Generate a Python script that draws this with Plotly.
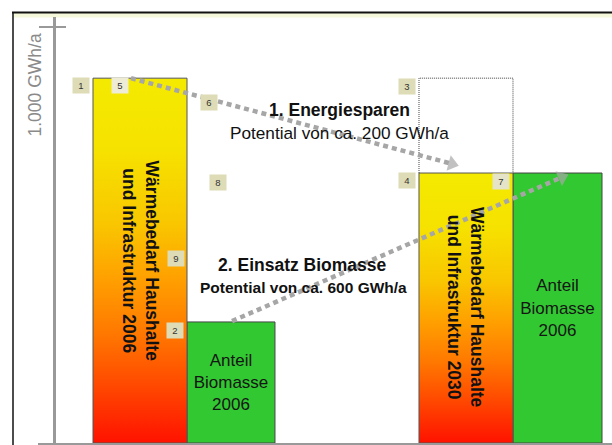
import plotly.graph_objects as go

# ---------------- data (GWh/a) ----------------
demand_labels = ["Wärmebedarf Haushalte<br>und Infrastruktur 2006",
                 "Wärmebedarf Haushalte<br>und Infrastruktur 2030"]
demand_values = [877, 649]
biomass_labels = ["Anteil<br>Biomasse<br>2006", "Anteil<br>Biomasse<br>2006"]
biomass_values = [291, 649]
y_tick_values = [1000]
y_label = "1.000 GWh/a"
step_titles = ["1. Energiesparen", "2. Einsatz Biomasse"]
step_texts = ["Potential von ca. 200 GWh/a", "Potential von ca. 600 GWh/a"]
marker_numbers = ["1", "2", "3", "4", "5", "6", "7", "8", "9"]

# ---------------- layout constants ----------------
W, H = 612, 445
ML, MR, MT, MB = 38, 0, 17, 2
X0_PX, UNIT_PX = 93, 94          # pixel of x=0, pixels per x unit
Y0_PX = H - MB                   # pixel of y=0
Y_PX_PER = 0.416                 # pixels per GWh/a
XR = [(ML - X0_PX) / UNIT_PX, (W - MR - X0_PX) / UNIT_PX]
YR = [0, (H - MB - MT) / Y_PX_PER]

demand_x = [0.0, 3.468]
demand_w = 1.0
biomass_x = [1.0, 4.468]
biomass_w = [0.936, 0.947]

FONT = "Arial, Liberation Sans, sans-serif"
GREEN = "#32c832"
GRAD = [[0, "#ff1200"], [0.15, "#ff4600"], [0.3, "#ff7800"], [0.45, "#ffa000"],
        [0.6, "#f9c600"], [0.8, "#f6e200"], [1, "#f4ea00"]]
ARROW = "#a6a6a6"


def dx(px):
    return (px - X0_PX) / UNIT_PX


def dy(py):
    return (Y0_PX - py) / Y_PX_PER


def paper_x(px):
    return (px - ML) / (W - ML - MR)


def paper_y(py):
    return (H - MB - py) / (H - MT - MB)


fig = go.Figure()

# green bars (Anteil Biomasse)
fig.add_trace(go.Bar(
    x=biomass_x, y=biomass_values, width=biomass_w, offset=0,
    marker=dict(color=GREEN, line=dict(color="#444", width=1)),
    text=biomass_labels, textposition="inside", insidetextanchor="middle",
    textangle=0, textfont=dict(family=FONT, size=17, color="#151515"),
    hoverinfo="skip", showlegend=False))

# gradient demand bars
for x0, v in zip(demand_x, demand_values):
    fig.add_trace(go.Scatter(
        x=[x0, x0, x0 + demand_w, x0 + demand_w, x0], y=[0, v, v, 0, 0],
        mode="lines", fill="toself",
        fillgradient=dict(type="vertical", colorscale=GRAD),
        line=dict(color="#555", width=1), hoverinfo="skip", showlegend=False))

# dotted outline of the 2006 demand above the 2030 bar
x3 = demand_x[1]
fig.add_trace(go.Scatter(
    x=[x3, x3, x3 + demand_w, x3 + demand_w],
    y=[demand_values[1], demand_values[0], demand_values[0], demand_values[1]],
    mode="lines", line=dict(color="#444", width=1, dash="1px,1px"),
    hoverinfo="skip", showlegend=False))

# arrows
arrows = [
    ((demand_x[0] + 0.404, demand_values[0]), (demand_x[1] + 0.351, demand_values[1] + 22)),
    ((biomass_x[0] + 0.479, biomass_values[0] + 2), (biomass_x[1] + 0.521, biomass_values[1] - 10)),
]
for (xs, ys), (xe, ye) in arrows:
    fig.add_trace(go.Scatter(
        x=[xs, xe], y=[ys, ye], mode="lines+markers",
        line=dict(color=ARROW, width=4.5, dash="5px,4px"),
        marker=dict(symbol="triangle-up", size=[0, 14], color=ARROW,
                    angleref="previous", line=dict(width=0)),
        hoverinfo="skip", showlegend=False))

annotations = []
# rotated text in demand bars
for x0, v, lab in zip(demand_x, demand_values, demand_labels):
    annotations.append(dict(
        x=x0 + demand_w / 2, y=v / 2, xref="x", yref="y", text=lab,
        textangle=90, showarrow=False, align="center",
        font=dict(family=FONT, size=17.5, color="#111", weight="bold")))

# step texts
annotations += [
    dict(x=dx(339), y=dy(110), text=step_titles[0],
         font=dict(family=FONT, size=17.5, color="#111", weight="bold")),
    dict(x=dx(339), y=dy(133), text=step_texts[0],
         font=dict(family=FONT, size=17.2, color="#111")),
    dict(x=dx(302), y=dy(265), text=step_titles[1],
         font=dict(family=FONT, size=17.5, color="#111", weight="bold")),
    dict(x=dx(303), y=dy(287), text=step_texts[1],
         font=dict(family=FONT, size=15.5, color="#111", weight="bold")),
]
for a in annotations[-4:]:
    a.update(xref="x", yref="y", showarrow=False, xanchor="center", yanchor="middle")

# y axis label
annotations.append(dict(
    x=paper_x(34), y=y_tick_values[0], xref="paper", yref="y",
    xanchor="center", yanchor="top", yshift=-5, text=y_label, textangle=-90,
    showarrow=False, font=dict(family=FONT, size=17.5, color="#8a8a8a")))

# numbered placeholder boxes
num_pos = {"1": (80.5, 85.5), "5": (119.5, 85.5), "6": (208.5, 102.5),
           "3": (406.5, 86.5), "4": (406.5, 180), "7": (501, 181),
           "8": (218, 182), "9": (176, 258.5), "2": (174.5, 330)}
num_bg = {"5": "#eeecd4", "7": "#e6e4c8"}
for n in marker_numbers:
    px, py = num_pos[n]
    annotations.append(dict(
        x=dx(px), y=dy(py), xref="x", yref="y", text=n, showarrow=False,
        xanchor="center", yanchor="middle",
        width=14, height=13, bgcolor=num_bg.get(n, "#dedcb6"),
        font=dict(family=FONT, size=9.5, color="#333")))

shapes = [
    # pale band below top border
    dict(type="rect", xref="paper", yref="paper", x0=paper_x(14), x1=paper_x(612),
         y0=paper_y(17.5), y1=paper_y(13), fillcolor="#f6f8da", line=dict(width=0),
         layer="below"),
    # frame
    dict(type="line", xref="paper", yref="paper", x0=paper_x(12), x1=paper_x(612),
         y0=paper_y(12.5), y1=paper_y(12.5), line=dict(color="#111", width=2)),
    dict(type="line", xref="paper", yref="paper", x0=paper_x(13), x1=paper_x(13),
         y0=paper_y(12), y1=paper_y(445), line=dict(color="#111", width=1.5)),
]

fig.update_layout(
    width=W, height=H, margin=dict(l=ML, r=MR, t=MT, b=MB, pad=0),
    paper_bgcolor="white", plot_bgcolor="white",
    showlegend=False, barmode="overlay",
    xaxis=dict(range=XR, showgrid=False, zeroline=False, showticklabels=False,
               ticks="", showline=True, linecolor="#999", linewidth=2, fixedrange=True),
    yaxis=dict(range=YR, anchor="free", position=paper_x(54), showgrid=False,
               zeroline=False, showticklabels=False, showline=True,
               linecolor="#999", linewidth=2.5, ticks="outside", ticklen=14,
               tickwidth=1.5, tickcolor="#999", tickvals=y_tick_values, fixedrange=True),
    yaxis2=dict(overlaying="y", matches="y", anchor="free", position=paper_x(54),
                showgrid=False, zeroline=False, showticklabels=False, showline=False,
                ticks="inside", ticklen=11, tickwidth=1.5, tickcolor="#999",
                tickvals=y_tick_values, fixedrange=True),
    annotations=annotations, shapes=shapes,
)
# invisible trace to activate yaxis2
fig.add_trace(go.Scatter(x=[None], y=[None], yaxis="y2", showlegend=False, hoverinfo="skip"))

fig.write_html("out.html", config={"displayModeBar": False},
               post_script="document.body.style.margin='0px';document.body.style.overflow='hidden';")
